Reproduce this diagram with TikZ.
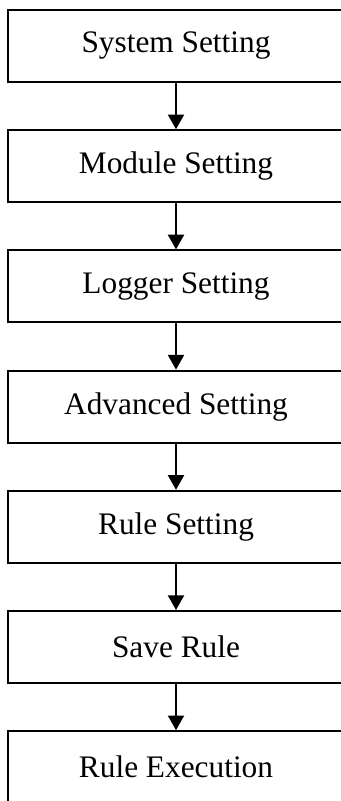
\documentclass[tikz,border=0pt]{standalone}
\usepackage{fontspec}
\setmainfont{Liberation Serif}
\usepackage{tikz}
\usetikzlibrary{arrows.meta}

\tikzset{
	stagebox/.style={draw, line width=1.5pt, rectangle, minimum width=252pt, minimum height=54pt, inner sep=0pt, font=\fontsize{23.5}{28}\selectfont},
	flowarrow/.style={line width=1.5pt, -{Triangle[length=11pt,width=12pt]}}
}

\begin{document}
\begin{tikzpicture}[x=0.75pt,y=-0.75pt]
	
	%the page
	\useasboundingbox (0,0) rectangle (340,801);
	
	%the distance between two boxes
	\def \d{120.2};
	
	% the boxes
	\foreach \t [count=\i] in {System Setting, Module Setting, Logger Setting, Advanced Setting, Rule Setting, Save Rule, Rule Execution} {
		\node[stagebox] (s\i) at (176,46+\i*\d-\d) {\t};    }
	
	% the arrows
	\foreach \i in {1,...,6} {
		\pgfmathtruncatemacro{\j}{\i+1}%
		\draw[flowarrow] (s\i.south) -- (s\j.north);    }
	
\end{tikzpicture}
\end{document}
